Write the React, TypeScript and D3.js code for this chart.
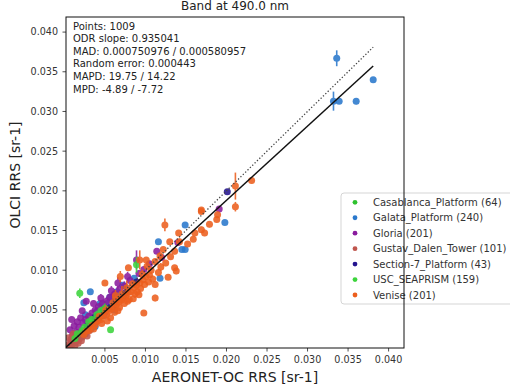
import React from 'react';
import * as d3 from 'd3';

type Pt = [number, number, number]; // [aeronet, olci, olci std]

const title = 'Band at 490.0 nm';
const xLabel = 'AERONET-OC RRS [sr-1]';
const yLabel = 'OLCI RRS [sr-1]';
const tickValues = [0.005, 0.01, 0.015, 0.02, 0.025, 0.03, 0.035, 0.04];
const statLines = [
  'Points: 1009',
  'ODR slope: 0.935041',
  'MAD: 0.000750976 / 0.000580957',
  'Random error: 0.000443',
  'MAPD: 19.75 / 14.22',
  'MPD: -4.89 / -7.72',
];
const odrSlope = 0.935041;
const odrIntercept = 0.0001;
const lineRange = [0.0002, 0.0381];

const casablanca: Pt[] = [
  [0.0021, 0.0022, 0.0003], [0.0027, 0.0025, 0.0003], [0.0035, 0.0032, 0.0003],
  [0.0043, 0.004, 0.0004], [0.0012, 0.0011, 0.0002], [0.0017, 0.0018, 0.0002],
  [0.0031, 0.0036, 0.0003], [0.0039, 0.0035, 0.0003],
];
const galata: Pt[] = [
  [0.0336, 0.0367, 0.001], [0.0332, 0.0313, 0.0012], [0.0339, 0.0313, 0.0002],
  [0.036, 0.0313, 0.0004], [0.0381, 0.034, 0.0002], [0.0198, 0.016, 0.0003],
  [0.0149, 0.0157, 0.0002], [0.0116, 0.0136, 0.0002], [0.0149, 0.0126, 0.0003],
  [0.0118, 0.009, 0.0002], [0.0032, 0.0073, 0.0002], [0.0024, 0.0059, 0.0002],
  [0.0022, 0.0023, 0.0002], [0.004, 0.0048, 0.0003], [0.0046, 0.0052, 0.0002],
  [0.0053, 0.0058, 0.0002], [0.006, 0.0063, 0.0003], [0.0036, 0.004, 0.0002],
  [0.0029, 0.0033, 0.0002], [0.0065, 0.0073, 0.0004], [0.007, 0.0067, 0.0003],
  [0.0078, 0.0075, 0.0003], [0.0049, 0.0043, 0.0002], [0.0033, 0.0026, 0.0002],
  [0.0015, 0.0014, 0.0002], [0.0019, 0.0017, 0.0002], [0.0086, 0.009, 0.0003],
  [0.0026, 0.0044, 0.0002], [0.0145, 0.0126, 0.0002], [0.0044, 0.0058, 0.0003],
  [0.0056, 0.0066, 0.0003], [0.0072, 0.0081, 0.0004], [0.0038, 0.0029, 0.0002],
  [0.0062, 0.005, 0.0002],
];
const gloria: Pt[] = [
  [0.0007, 0.0025, 0.0002], [0.0009, 0.0038, 0.0002], [0.0027, 0.0061, 0.0002],
  [0.0012, 0.003, 0.0002], [0.0016, 0.0035, 0.0002], [0.002, 0.004, 0.0002],
  [0.0014, 0.0022, 0.0002], [0.001, 0.0018, 0.0002], [0.0018, 0.0028, 0.0003],
  [0.0023, 0.0034, 0.0003], [0.0026, 0.0038, 0.0003], [0.003, 0.0042, 0.0003],
  [0.0034, 0.0046, 0.0004], [0.0038, 0.005, 0.0004], [0.0042, 0.0054, 0.0004],
  [0.0047, 0.0058, 0.0005], [0.0052, 0.0061, 0.0005], [0.0056, 0.0066, 0.0004],
  [0.0062, 0.007, 0.0006], [0.0068, 0.0076, 0.0005], [0.0074, 0.008, 0.0006],
  [0.0081, 0.0087, 0.0005], [0.0089, 0.0113, 0.0012], [0.0092, 0.0096, 0.0004],
  [0.0098, 0.0101, 0.0004], [0.0114, 0.0124, 0.0003], [0.012, 0.0116, 0.0004],
  [0.0191, 0.0177, 0.0003], [0.014, 0.0135, 0.0004], [0.005, 0.0047, 0.0003],
  [0.0032, 0.0031, 0.0003], [0.0008, 0.0012, 0.0002], [0.0022, 0.0049, 0.0003],
  [0.0036, 0.0058, 0.0004], [0.0045, 0.0065, 0.0005], [0.0058, 0.0074, 0.0006],
  [0.0066, 0.0084, 0.0007], [0.0078, 0.0092, 0.0006], [0.0105, 0.0108, 0.0004],
];
const gustav: Pt[] = [
  [0.0004, 0.0006, 0.0002], [0.0006, 0.0004, 0.0002], [0.0008, 0.0009, 0.0002],
  [0.001, 0.0007, 0.0002], [0.0012, 0.0012, 0.0002], [0.0014, 0.001, 0.0002],
  [0.0016, 0.0016, 0.0002], [0.0018, 0.0013, 0.0002], [0.002, 0.0019, 0.0002],
  [0.0022, 0.0016, 0.0002], [0.0024, 0.0023, 0.0003], [0.0026, 0.002, 0.0002],
  [0.0029, 0.0027, 0.0003], [0.0031, 0.0024, 0.0002], [0.0005, 0.0015, 0.0002],
  [0.0011, 0.002, 0.0002], [0.0034, 0.0033, 0.0003], [0.0038, 0.0036, 0.0003],
  [0.0007, 0.0002, 0.0002], [0.0017, 0.0008, 0.0002], [0.0009, 0.0014, 0.0002],
  [0.0013, 0.0005, 0.0002], [0.0021, 0.0011, 0.0002], [0.0028, 0.0017, 0.0002],
];
const section7: Pt[] = [
  [0.0201, 0.0199, 0.0003], [0.0062, 0.006, 0.0008], [0.0048, 0.0049, 0.0006],
  [0.0075, 0.0071, 0.0009], [0.0038, 0.0041, 0.0004], [0.0089, 0.0085, 0.0004],
  [0.0028, 0.0029, 0.0003], [0.0055, 0.0052, 0.0005],
];
const usc: Pt[] = [
  [0.0019, 0.0071, 0.0006], [0.0057, 0.0025, 0.0002], [0.0089, 0.0107, 0.001],
  [0.003, 0.0035, 0.0004], [0.004, 0.0044, 0.0005], [0.0025, 0.0028, 0.0003],
  [0.005, 0.0052, 0.0006], [0.0016, 0.002, 0.0002], [0.0034, 0.0038, 0.0004],
  [0.0045, 0.0049, 0.0005], [0.0013, 0.0014, 0.0002], [0.0022, 0.0024, 0.0003],
];
const venise: Pt[] = [
  [0.0231, 0.0213, 0.0004], [0.0211, 0.0206, 0.0017], [0.0211, 0.018, 0.0006],
  [0.0169, 0.0176, 0.0003], [0.0189, 0.017, 0.0004], [0.0188, 0.0164, 0.0003],
  [0.0169, 0.0174, 0.0003], [0.0124, 0.0157, 0.0008], [0.0141, 0.0147, 0.0003],
  [0.0169, 0.0151, 0.0004], [0.0173, 0.0147, 0.0004], [0.0159, 0.0139, 0.0003],
  [0.0161, 0.0147, 0.0003], [0.013, 0.0136, 0.0003], [0.0142, 0.0136, 0.0004],
  [0.0122, 0.0126, 0.0003], [0.0136, 0.0124, 0.0004], [0.0101, 0.0113, 0.0003],
  [0.0112, 0.0111, 0.0003], [0.0136, 0.0103, 0.0003], [0.0138, 0.0099, 0.0004],
  [0.0128, 0.0091, 0.0003], [0.0079, 0.0103, 0.0003], [0.0093, 0.0113, 0.0012],
  [0.0112, 0.0065, 0.0004], [0.0098, 0.0046, 0.0003], [0.0069, 0.0092, 0.0007],
  [0.005, 0.0084, 0.0003], [0.0102, 0.0105, 0.0003], [0.0116, 0.0097, 0.0003],
  [0.0112, 0.0082, 0.0003],
  [0.003, 0.0024, 0.0003], [0.0034, 0.003, 0.0004], [0.0038, 0.0031, 0.0003],
  [0.0041, 0.0036, 0.0005], [0.0045, 0.0038, 0.0003], [0.0048, 0.0043, 0.0004],
  [0.0052, 0.0044, 0.0003], [0.0055, 0.0049, 0.0005], [0.0058, 0.0051, 0.0003],
  [0.0061, 0.0055, 0.0004], [0.0064, 0.0057, 0.0003], [0.0067, 0.006, 0.0006],
  [0.007, 0.0062, 0.0003], [0.0073, 0.0066, 0.0004], [0.0076, 0.0068, 0.0003],
  [0.0079, 0.0072, 0.0005], [0.0082, 0.0073, 0.0003], [0.0086, 0.0078, 0.0004],
  [0.0089, 0.0081, 0.0003], [0.0093, 0.0084, 0.0004], [0.0097, 0.0088, 0.0003],
  [0.0101, 0.0092, 0.0004], [0.0105, 0.0094, 0.0003], [0.0057, 0.004, 0.0003],
  [0.0062, 0.0047, 0.0004], [0.0068, 0.0053, 0.0003], [0.0074, 0.0058, 0.0004],
  [0.008, 0.0063, 0.0003], [0.0087, 0.007, 0.0005], [0.0094, 0.0077, 0.0003],
  [0.0046, 0.0033, 0.0003], [0.0051, 0.005, 0.0006], [0.006, 0.0059, 0.0008],
  [0.0071, 0.007, 0.001], [0.0084, 0.0083, 0.0004], [0.0024, 0.0019, 0.0003],
  [0.0027, 0.0023, 0.0003], [0.0036, 0.0026, 0.0003], [0.0043, 0.0042, 0.0004],
  [0.009, 0.0073, 0.0003], [0.0099, 0.0082, 0.0003], [0.0107, 0.01, 0.0004],
  [0.0065, 0.0064, 0.0003], [0.0053, 0.0036, 0.0003], [0.0066, 0.0049, 0.0004],
  [0.0078, 0.0061, 0.0004], [0.0085, 0.0064, 0.0003], [0.0092, 0.0069, 0.0004],
  [0.0104, 0.0085, 0.0003], [0.0109, 0.0089, 0.0004], [0.0119, 0.0104, 0.0005],
  [0.0125, 0.0109, 0.0004], [0.0131, 0.0117, 0.0004], [0.0077, 0.0078, 0.0009],
  [0.0063, 0.0068, 0.0007], [0.0096, 0.0095, 0.0006], [0.0118, 0.0118, 0.0005],
  [0.0152, 0.0133, 0.0003], [0.0179, 0.0158, 0.0004],
];

const sites = [
  {name: 'Casablanca_Platform (64)', color: '#2fc22f', pts: casablanca},
  {name: 'Galata_Platform (240)', color: '#2a78cc', pts: galata},
  {name: 'Gloria (201)', color: '#8a1c9e', pts: gloria},
  {name: 'Gustav_Dalen_Tower (101)', color: '#c0564e', pts: gustav},
  {name: 'Section-7_Platform (43)', color: '#24148f', pts: section7},
  {name: 'USC_SEAPRISM (159)', color: '#3cd43c', pts: usc},
  {name: 'Venise (201)', color: '#ec5f1e', pts: venise},
];

const W = 510, H = 388;
const left = 66, right = 404, top = 17, bottom = 348;
const font = 'DejaVu Sans, sans-serif';

export default function App() {
  const x = d3.scaleLinear().domain([0.0002, 0.0419]).range([left, right]);
  const y = d3.scaleLinear().domain([0.0002, 0.0419]).range([bottom, top]);
  const fmt = d3.format('.3f');

  const oneToOne = d3.line<number>().x(d => x(d)).y(d => y(d))(lineRange) || '';
  const odr = d3.line<number>().x(d => x(d)).y(d => y(odrSlope * d + odrIntercept))(lineRange) || '';

  return (
    <svg width={W} height={H} style={{position: 'absolute', left: 0, top: 0, background: '#fff'}}
         fontFamily={font}>
      <defs>
        <clipPath id="plot"><rect x={left} y={top} width={right - left} height={bottom - top}/></clipPath>
      </defs>
      <rect x={0} y={0} width={W} height={H} fill="#fff"/>

      <g clipPath="url(#plot)">
        {sites.map(s => (
          <g key={s.name}>
            {s.pts.map((p, i) => (
              <g key={i} opacity={0.88}>
                <line x1={x(p[0])} x2={x(p[0])} y1={y(p[1] - p[2])} y2={y(p[1] + p[2])}
                      stroke={s.color} strokeWidth={1.6}/>
                <circle cx={x(p[0])} cy={y(p[1])} r={3.5} fill={s.color}/>
              </g>
            ))}
          </g>
        ))}
        <path d={oneToOne} fill="none" stroke="#444" strokeWidth={1.3} strokeDasharray="1.3,2"/>
        <path d={odr} fill="none" stroke="#111" strokeWidth={1.5}/>
      </g>

      {/* stats */}
      {statLines.map((t, i) => (
        <text key={t} x={73} y={29.5 + i * 12.6} fontSize={10} fill="#222">{t}</text>
      ))}

      {/* x axis */}
      {tickValues.map(v => (
        <g key={'x' + v}>
          <line x1={x(v)} x2={x(v)} y1={bottom} y2={bottom + 3.5} stroke="#222" strokeWidth={0.8}/>
          <text x={x(v)} y={363} fontSize={9.6} textAnchor="middle" fill="#333">{fmt(v)}</text>
        </g>
      ))}
      {/* y axis */}
      {tickValues.map(v => (
        <g key={'y' + v}>
          <line x1={left - 3.5} x2={left} y1={y(v)} y2={y(v)} stroke="#222" strokeWidth={0.8}/>
          <text x={58} y={y(v) + 3.4} fontSize={9.6} textAnchor="end" fill="#333">{fmt(v)}</text>
        </g>
      ))}

      <text x={(left + right) / 2} y={382} fontSize={14} textAnchor="middle" fill="#222">{xLabel}</text>
      <text transform="translate(20,175) rotate(-90)" fontSize={14} textAnchor="middle" fill="#222">{yLabel}</text>
      <text x={(left + right) / 2} y={10} fontSize={12} textAnchor="middle" fill="#222">{title}</text>

      {/* legend */}
      <rect x={341} y={193} width={180} height={111} rx={3} fill="#fff" fillOpacity={0.8} stroke="#d5d5d5"/>
      {sites.map((s, i) => (
        <g key={'l' + s.name}>
          <circle cx={355} cy={202.3 + i * 15.45} r={2.4} fill={s.color}/>
          <text x={373} y={202.3 + i * 15.45 + 3.6} fontSize={10} fill="#333">{s.name}</text>
        </g>
      ))}

      <rect x={left} y={top} width={right - left} height={bottom - top} fill="none" stroke="#111" strokeWidth={1}/>
    </svg>
  );
}
